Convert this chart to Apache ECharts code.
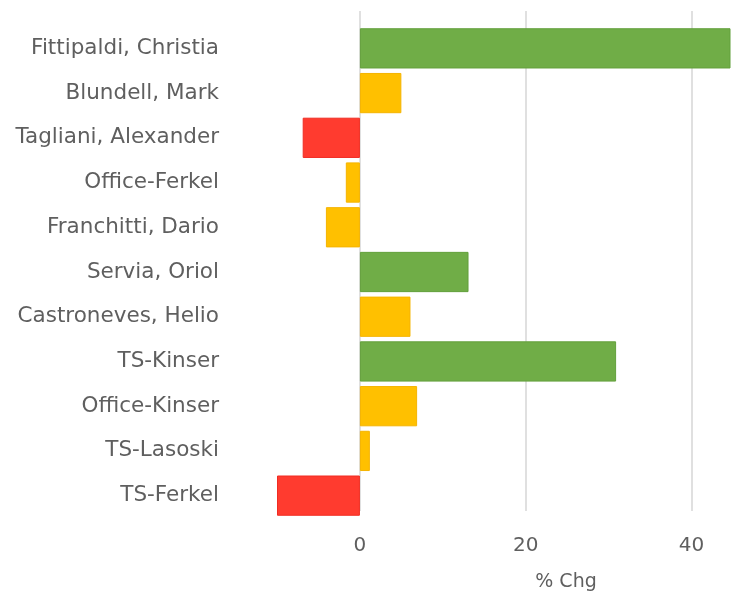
<!DOCTYPE html>
<html>
<head>
<meta charset="utf-8">
<script src="https://cdn.jsdelivr.net/npm/echarts@6/dist/echarts.min.js"></script>
<style>
  html, body { margin: 0; padding: 0; background: #fff; }
  #main { width: 736px; height: 597px; }
</style>
</head>
<body>
<div id="main"></div>
<script>
var myChart = echarts.init(document.getElementById('main'));

var names = [
    'Fittipaldi, Christia',
    'Blundell, Mark',
    'Tagliani, Alexander',
    'Office-Ferkel',
    'Franchitti, Dario',
    'Servia, Oriol',
    'Castroneves, Helio',
    'TS-Kinser',
    'Office-Kinser',
    'TS-Lasoski',
    'TS-Ferkel'
];
var pctChg = [44.7, 5.0, -6.9, -1.7, -4.1, 13.1, 6.1, 30.9, 6.9, 1.2, -10.0];
var tickLabels = ['0', '20', '40'];

function barColor(v) {
    if (v >= 10) return { fill: '#70ad47', edge: '#63a03c' };
    if (v <= -5) return { fill: '#ff3b2f', edge: '#f02c22' };
    return { fill: '#ffc000', edge: '#f5b400' };
}

var barData = pctChg.map(function (v) {
    var c = barColor(v);
    return {
        value: v,
        itemStyle: { color: c.fill, borderColor: c.edge, borderWidth: 1 }
    };
});

var font = 'DejaVu Sans';
var textColor = '#5f5f5f';

var option = {
    animation: false,
    grid: [
        { left: 277, right: 3, top: 11, bottom: 79 },
        { left: 277, right: 3, top: 26, bottom: 79 }
    ],
    xAxis: [
        {
            gridIndex: 0,
            type: 'value',
            min: -10,
            max: 45,
            interval: 10,
            axisLine: { show: false },
            axisTick: { show: false },
            splitLine: {
                show: true,
                showMinLine: false,
                showMaxLine: false,
                lineStyle: { color: ['#d6d6d6', 'rgba(0,0,0,0)'], width: 1.5 }
            },
            axisLabel: {
                margin: 25,
                fontFamily: font,
                fontSize: 20,
                color: textColor,
                formatter: function (v) {
                    var s = String(v);
                    return tickLabels.indexOf(s) >= 0 ? s : '';
                }
            },
            name: '% Chg',
            nameLocation: 'middle',
            nameGap: 62,
            nameTextStyle: {
                fontFamily: font,
                fontSize: 19,
                color: textColor,
                padding: [0, 0, 0, 122]
            }
        },
        {
            gridIndex: 1,
            type: 'value',
            min: -10,
            max: 45,
            show: false
        }
    ],
    yAxis: [
        {
            gridIndex: 0,
            type: 'category',
            data: names,
            show: false
        },
        {
            gridIndex: 1,
            type: 'category',
            data: names,
            inverse: true,
            axisLine: { show: false },
            axisTick: { show: false },
            splitLine: { show: false },
            axisLabel: {
                margin: 58,
                fontFamily: font,
                fontSize: 21.5,
                color: textColor
            }
        }
    ],
    series: [
        {
            type: 'bar',
            xAxisIndex: 1,
            yAxisIndex: 1,
            data: barData,
            barCategoryGap: '10%'
        }
    ]
};

myChart.setOption(option);
window.onresize = function () {
    myChart.resize();
};
</script>
</body>
</html>
